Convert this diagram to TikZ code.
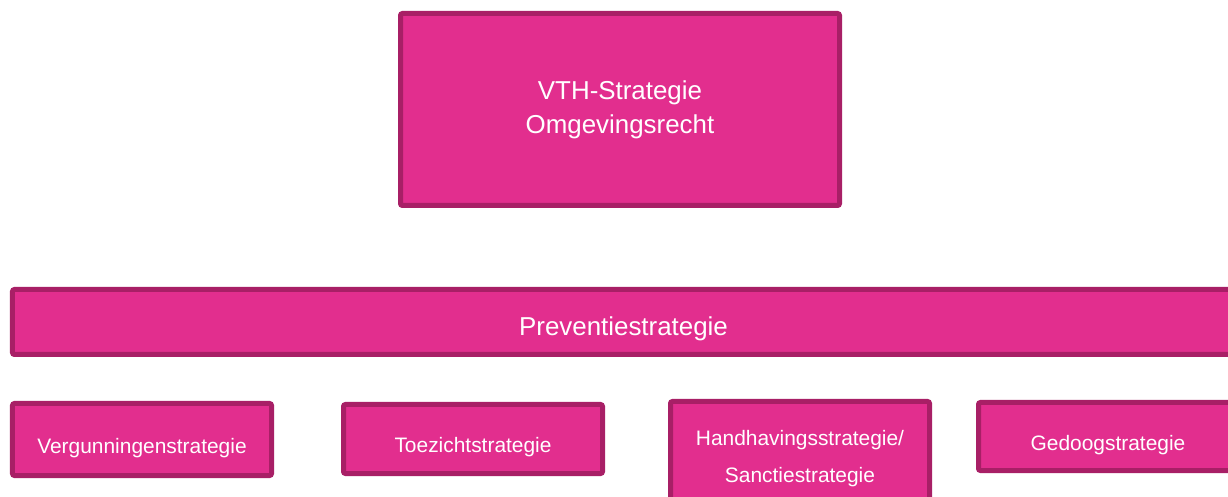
\documentclass[tikz,border=0pt]{standalone}
\usepackage{fontspec}
\setmainfont{Liberation Sans}
\usepackage{xcolor}
\definecolor{roze}{HTML}{E22E8E}
\definecolor{rozerand}{HTML}{A81F66}

\begin{document}
\begin{tikzpicture}[x=1bp,y=-1bp,
	blok/.style={draw=rozerand, fill=roze, line width=5bp, rounded corners=2bp,
		text=white, inner sep=0pt, align=center},
	groot/.style={font=\fontsize{26}{34}\selectfont},
	klein/.style={font=\fontsize{21}{37}\selectfont},
	enkel/.style={text height=30bp, text depth=3bp}]
	\useasboundingbox (0,0) rectangle (1228,497);
	\clip (0,0) rectangle (1228,497);
	
	% bovenste blok
	\node[blok, groot, minimum width=439bp, minimum height=192bp] (vth) at (620,109.5)
		{VTH-Strategie\\Omgevingsrecht};
	
	% brede balk
	\node[blok, groot, enkel, text height=31bp, text depth=4bp,
		minimum width=1222bp, minimum height=65bp] (preventie) at (623.5,322) {Preventiestrategie};
	
	% onderste rij
	\node[blok, klein, enkel, minimum width=259bp, minimum height=72bp] (vergunning) at (142,439.5) {Vergunningenstrategie};
	\node[blok, klein, enkel, minimum width=259bp, minimum height=69bp] (toezicht) at (473,439) {Toezichtstrategie};
	\node[blok, klein, minimum width=259bp, minimum height=115bp] (handhaving) at (800,459)
		{Handhavingsstrategie/\\Sanctiestrategie};
	\node[blok, klein, enkel, minimum width=259bp, minimum height=68bp] (gedoog) at (1108,436.5) {Gedoogstrategie};
\end{tikzpicture}
\end{document}
